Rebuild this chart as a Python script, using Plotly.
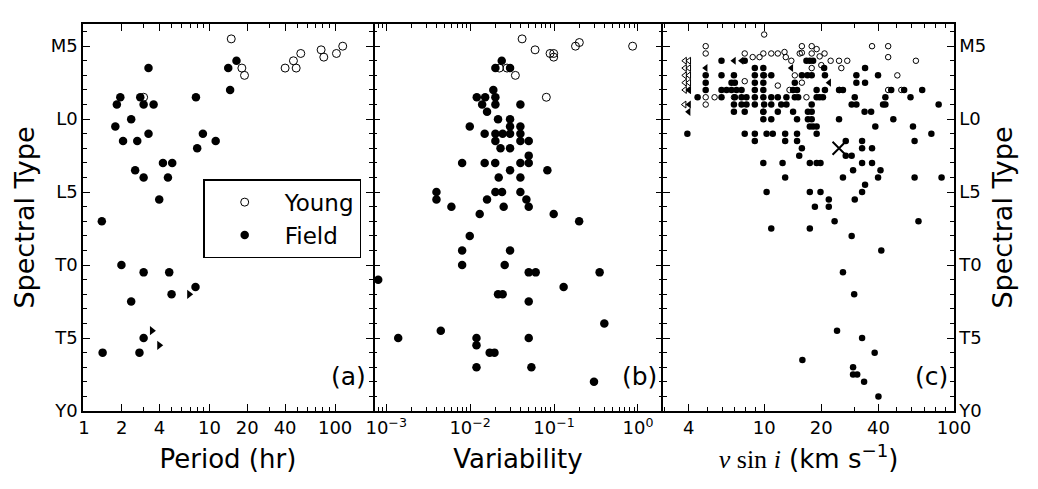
import plotly.graph_objects as go
from plotly.subplots import make_subplots

# ---- panel (a): rotation period ----
young_period = [14.9, 18.1, 19.0, 40, 46.6, 49, 53.3, 77.4, 81.3, 102.5, 115, 2.99]
young_period_spt = [4.5, 6.5, 7.0, 6.5, 6.0, 6.5, 5.5, 5.25, 5.75, 5.5, 5.0, 8.5]

field_period = [3.27, 16.4, 14.1, 14.6, 1.95, 1.83, 2.81, 2.99, 3.59, 7.8,
                2.38, 1.78, 2.05, 2.66, 3.27, 8.86, 11.2, 7.98, 4.26, 5.05,
                2.56, 2.99, 4.67, 3.98, 1.39, 1.99, 2.99, 4.78, 7.74, 4.99,
                2.38, 2.99, 1.41, 2.77]
field_period_spt = [6.5, 6.0, 6.5, 8.0, 8.5, 9.0, 8.5, 9.0, 9.0, 8.5,
                    10.0, 10.5, 11.5, 11.5, 11.0, 11.0, 11.5, 12.0, 13.0, 13.0,
                    13.5, 14.0, 14.0, 15.5, 17.0, 20.0, 20.5, 20.5, 21.5, 22.0,
                    22.5, 25.0, 26.0, 26.0]

# lower limits on period
limit_period = [6.89, 3.48, 3.98]
limit_period_spt = [22.0, 24.5, 25.5]

# ---- panel (b): variability amplitude ----
young_var = [0.0416, 0.0594, 0.0896, 0.099, 0.099, 0.180, 0.200, 0.863, 0.0223, 0.0275, 0.0346, 0.0809]
young_var_spt = [4.5, 5.25, 5.5, 5.5, 5.75, 5.0, 4.75, 5.0, 6.5, 6.5, 7.0, 8.5]

field_var = [0.0238, 0.0200, 0.0299, 0.0189, 0.0120, 0.0151, 0.0200, 0.0139, 0.0200, 0.0397,
             0.0159, 0.0215, 0.0299, 0.0299, 0.0397, 0.0099, 0.0149, 0.0200, 0.0244, 0.0299,
             0.0397, 0.0200, 0.0397, 0.0499, 0.0230, 0.0299, 0.0499, 0.00803, 0.0149, 0.0199,
             0.0397, 0.0499, 0.0299, 0.0832, 0.0219, 0.0397, 0.00397, 0.00397, 0.0200, 0.0240,
             0.0397, 0.0159, 0.0468, 0.00598, 0.0251, 0.0499, 0.0130, 0.0990, 0.199, 0.0099,
             0.00803, 0.0299, 0.00803, 0.0258, 0.0499, 0.0604, 0.349, 0.000803, 0.130, 0.0215,
             0.0244, 0.0499, 0.397, 0.00139, 0.00447, 0.0119, 0.0119, 0.0499, 0.0171, 0.0195,
             0.0119, 0.0537, 0.299]
field_var_spt = [6.0, 6.5, 6.5, 8.0, 8.5, 8.5, 8.5, 9.0, 9.0, 9.0,
                 9.5, 10.0, 10.0, 10.5, 10.5, 10.5, 11.0, 11.0, 11.0, 11.0,
                 11.0, 11.5, 11.5, 11.5, 12.0, 12.0, 12.5, 13.0, 13.0, 13.0,
                 13.0, 13.0, 13.5, 13.5, 14.0, 14.0, 15.0, 15.5, 15.0, 15.0,
                 15.0, 15.5, 15.5, 16.0, 16.0, 16.0, 16.5, 16.5, 17.0, 18.0,
                 19.0, 19.0, 20.0, 20.0, 20.5, 20.5, 20.5, 21.0, 21.5, 22.0,
                 22.0, 22.5, 24.0, 25.0, 24.5, 25.0, 25.5, 25.0, 26.0, 26.0,
                 27.0, 27.0, 28.0]

# ---- panel (c): v sin i ----
young_vsini = [10.0, 4.92, 15.8, 17.8, 37, 45,
               4.92, 7.9, 9.9, 10.9, 11.8, 12.8, 13.0, 15.4, 15.8, 17.8, 18.9, 19.6, 20.8, 8.7, 9.45, 45,
               13.9, 22.4, 24.8, 27.4, 63,
               25.5, 17.8, 20.0,
               14.5, 10.0, 50.3,
               15.8, 11.8, 7.9,
               13.6, 25.0, 45, 52.8,
               16.7, 6.93, 4.92, 5.48,
               4.92, 9.9]
young_vsini_spt = [4.2, 5.0, 5.0, 5.0, 5.0, 5.0,
                   5.5, 5.5, 5.5, 5.5, 5.5, 5.4, 5.75, 5.5, 5.45, 5.5, 5.2, 5.7, 5.5, 5.75, 5.75, 5.75,
                   6.0, 6.0, 6.0, 6.0, 6.0,
                   6.5, 6.5, 6.3,
                   7.0, 7.0, 7.0,
                   7.5, 7.7, 7.4,
                   8.0, 8.0, 8.0, 8.0,
                   8.5, 8.5, 8.5, 8.5,
                   9.0, 9.5]

young_limit_vsini = [3.82, 3.82, 3.82, 3.82, 3.82, 3.8, 4.02, 4.02, 4.02, 4.02, 4.02]
young_limit_vsini_spt = [6.0, 6.5, 7.0, 7.5, 8.0, 9.0, 6.0, 6.5, 7.0, 7.5, 8.0]

field_limit_vsini = [4.02, 4.02, 4.0, 4.92, 6.93, 7.6, 13.9, 22.0]
field_limit_vsini_spt = [8.0, 9.0, 9.5, 6.5, 6.0, 6.0, 6.5, 7.5]

field_vsini = [5.96, 7.9, 16.7, 17.4, 18.1,
               8.93, 9.9, 20.7, 34,
               4.92, 5.96, 6.93, 8.93, 9.9, 10.9, 15.8, 16.9, 17.8, 20.9, 30.6, 39.8,
               4.92, 6.73, 7.01, 8.93, 9.9, 14.5, 30.6, 34,
               4.92, 5.96, 6.34, 6.73, 7.15, 7.6, 8.93, 9.9, 14.2, 14.9, 18.9, 20.9, 24.8, 26.0, 46.7, 54.6, 68,
               4.46, 5.96, 7.01, 7.6, 8.07, 8.93, 9.9, 10.9, 11.8, 13.1, 14.5, 15.1, 18.9, 19.6, 20.4, 30.0, 43.5, 59,
               6.93, 7.6, 8.07, 8.93, 10.0, 10.9, 12.3, 13.1, 17.8, 28.9, 30.6, 42.3, 43.5, 83,
               6.93, 7.9, 9.9, 11.8, 14.2, 17.0, 17.8, 33.8, 36.6,
               9.9, 10.9, 14.9, 17.0, 17.8, 24.8, 47.9,
               17.4, 18.1, 18.9, 38.5, 60.8,
               3.94, 7.9, 8.93, 10.3, 11.1, 12.9, 14.9, 18.9, 76,
               8.93, 12.9, 14.9, 26.9, 32.8, 62,
               15.8, 32.8, 37,
               15.3, 26.9, 28.9,
               9.9, 12.5, 17.4, 18.9, 19.8, 32.8, 37,
               29.4, 41,
               12.9, 26.0, 39.8, 62, 86,
               34,
               10.3, 17.4, 19.8, 32.8,
               21.9, 30.0,
               18.5, 21.9,
               23.5, 65,
               10.9, 17.4,
               28.9, 41.4, 26.0, 29.8, 24.2, 32.8, 38.2, 15.9, 29.4, 29.4, 30.9, 33.6, 40.0]
field_vsini_spt = [6.0, 6.0, 6.0, 6.0, 6.0,
                   6.5, 6.5, 6.5, 6.5,
                   7.0, 7.0, 7.0, 7.0, 7.0, 7.0, 7.0, 7.0, 7.0, 7.0, 7.0, 7.0,
                   7.5, 7.5, 7.5, 7.5, 7.5, 7.5, 7.5, 7.5,
                   8.0, 8.0, 8.0, 8.0, 8.0, 8.0, 8.0, 8.0, 8.0, 8.0, 8.0, 8.0, 8.0, 8.0, 8.0, 8.0, 8.0,
                   8.5, 8.5, 8.5, 8.5, 8.5, 8.5, 8.5, 8.5, 8.5, 8.5, 8.5, 8.5, 8.5, 8.5, 8.5, 8.5, 8.5, 8.5,
                   9.0, 9.0, 9.0, 9.0, 9.0, 9.0, 9.0, 9.0, 9.0, 9.0, 9.0, 9.0, 9.0, 9.0,
                   9.5, 9.5, 9.5, 9.5, 9.5, 9.5, 9.5, 9.5, 9.5,
                   10.0, 10.0, 10.0, 10.0, 10.0, 10.0, 10.0,
                   10.5, 10.5, 10.5, 10.5, 10.5,
                   11.0, 11.0, 11.0, 11.0, 11.0, 11.0, 11.0, 11.0, 11.0,
                   11.5, 11.5, 11.5, 11.5, 11.5, 11.5,
                   12.0, 12.0, 12.0,
                   12.5, 12.5, 12.5,
                   13.0, 13.0, 13.0, 13.0, 13.0, 13.0, 13.0,
                   13.5, 13.5,
                   14.0, 14.0, 14.0, 14.0, 14.0,
                   14.5,
                   15.0, 15.0, 15.0, 15.0,
                   15.5, 15.5,
                   16.0, 16.0,
                   17.0, 17.0,
                   17.5, 17.5,
                   18.0, 19.0, 20.5, 22.0, 24.5, 25.0, 26.0, 26.5, 27.0, 27.5, 27.5, 28.0, 29.0]

odd_vsini = [24.8]
odd_vsini_spt = [12.0]

spt_ticks = [5, 10, 15, 20, 25, 30]
spt_labels = ["M5", "L0", "L5", "T0", "T5", "Y0"]

FONT = "DejaVu Sans, Arial, sans-serif"

fig = make_subplots(rows=1, cols=3, horizontal_spacing=0)


def young(x, y, size, show):
    return go.Scatter(x=x, y=y, mode="markers", name="Young", showlegend=show,
                      marker=dict(symbol="circle-open", size=size, color="black",
                                  line=dict(width=1, color="black")))


def field(x, y, size, show):
    return go.Scatter(x=x, y=y, mode="markers", name="Field", showlegend=show,
                      marker=dict(symbol="circle", size=size, color="black",
                                  line=dict(width=0)))


fig.add_trace(young(young_period, young_period_spt, 8, True), 1, 1)
fig.add_trace(field(field_period, field_period_spt, 8.5, True), 1, 1)
fig.add_trace(go.Scatter(x=limit_period, y=limit_period_spt, mode="markers", showlegend=False,
                         marker=dict(symbol="triangle-right", size=8, color="black")), 1, 1)

fig.add_trace(young(young_var, young_var_spt, 8, False), 1, 2)
fig.add_trace(field(field_var, field_var_spt, 8.5, False), 1, 2)

fig.add_trace(young(young_vsini, young_vsini_spt, 5.5, False), 1, 3)
fig.add_trace(field(field_vsini, field_vsini_spt, 6.5, False), 1, 3)
fig.add_trace(go.Scatter(x=young_limit_vsini, y=young_limit_vsini_spt, mode="markers", showlegend=False,
                         marker=dict(symbol="triangle-left-open", size=6, color="black",
                                     line=dict(width=1))), 1, 3)
fig.add_trace(go.Scatter(x=field_limit_vsini, y=field_limit_vsini_spt, mode="markers", showlegend=False,
                         marker=dict(symbol="triangle-left", size=7, color="black")), 1, 3)
fig.add_trace(go.Scatter(x=odd_vsini, y=odd_vsini_spt, mode="markers", showlegend=False,
                         marker=dict(symbol="x-thin-open", size=13, color="black",
                                     line=dict(width=2, color="black"))), 1, 3)

axis_common = dict(showline=True, linecolor="black", linewidth=1.5, mirror="ticks",
                   ticks="inside", ticklen=7, tickwidth=1, tickcolor="black",
                   showgrid=False, zeroline=False,
                   tickfont=dict(family=FONT, size=18, color="black"))

xa = dict(axis_common, type="log", range=[-0.007, 2.30], domain=[0, 0.3327],
          tickvals=[1, 2, 4, 10, 20, 40, 100], ticktext=["1", "2", "4", "10", "20", "40", "100"],
          minor=dict(ticks="inside", ticklen=4, tickcolor="black",
                     tickvals=[3, 5, 6, 7, 8, 9, 30, 50, 60, 70, 80, 90, 200]),
          title=dict(text="Period (hr)", font=dict(family=FONT, size=26, color="black"), standoff=12))
xb = dict(axis_common, type="log", range=[-3.16, 0.30], domain=[0.3327, 0.6661],
          tickvals=[0.001, 0.01, 0.1, 1],
          ticktext=["10<sup>−3</sup>", "10<sup>−2</sup>", "10<sup>−1</sup>", "10<sup>0</sup>"],
          minor=dict(ticks="inside", ticklen=4, tickcolor="black",
                     tickvals=[0.0008, 0.0009] + [d * m for d in (0.001, 0.01, 0.1) for m in range(2, 10)] + [2]),
          title=dict(text="Variability", font=dict(family=FONT, size=26, color="black"), standoff=12))
xc = dict(axis_common, type="log", range=[0.468, 2.0], domain=[0.6661, 1],
          tickvals=[4, 10, 20, 40, 100], ticktext=["4", "10", "20", "40", "100"],
          minor=dict(ticks="inside", ticklen=4, tickcolor="black",
                     tickvals=[3, 5, 6, 7, 8, 9, 30, 50, 60, 70, 80, 90]),
          title=dict(text="<span style=\"font-family:Liberation Serif\"><i>v</i> sin <i>i</i></span> (km s<sup>−1</sup>)",
                     font=dict(family=FONT, size=26, color="black"), standoff=12))

ya = dict(axis_common, range=[30, 3.48], tickvals=spt_ticks, ticktext=spt_labels,
          minor=dict(ticks="inside", ticklen=4, dtick=1, tickcolor="black"))

# the page body adds an 8px margin, so the figure is sized to fit inside it
fig.update_layout(
    xaxis=xa, xaxis2=xb, xaxis3=xc,
    yaxis=dict(ya, title=dict(text="Spectral Type", font=dict(family=FONT, size=27, color="black"), standoff=8)),
    # middle panel: only ticks, its side lines come from the neighbouring panels
    yaxis2=dict(ya, showticklabels=False, showline=False),
    yaxis3=dict(ya, side="right",
                title=dict(text="Spectral Type", font=dict(family=FONT, size=27, color="black"), standoff=8)),
    width=1022, height=473,
    margin=dict(l=75, r=76, t=16, b=66),
    plot_bgcolor="white", paper_bgcolor="white",
    font=dict(family=FONT, color="black"),
    legend=dict(x=0.138, y=0.599, xanchor="left", yanchor="top",
                bordercolor="black", borderwidth=1.5, bgcolor="white",
                font=dict(family=FONT, size=23, color="black"),
                itemwidth=70, tracegroupgap=4),
)

for ref, label in (("", "(a)"), ("2", "(b)"), ("3", "(c)")):
    fig.add_annotation(text=label, xref=f"x{ref} domain", yref=f"y{ref} domain",
                       x=0.985, y=0.09, xanchor="right", yanchor="middle", showarrow=False,
                       font=dict(family=FONT, size=25, color="black"))

fig.write_html("out.html")
